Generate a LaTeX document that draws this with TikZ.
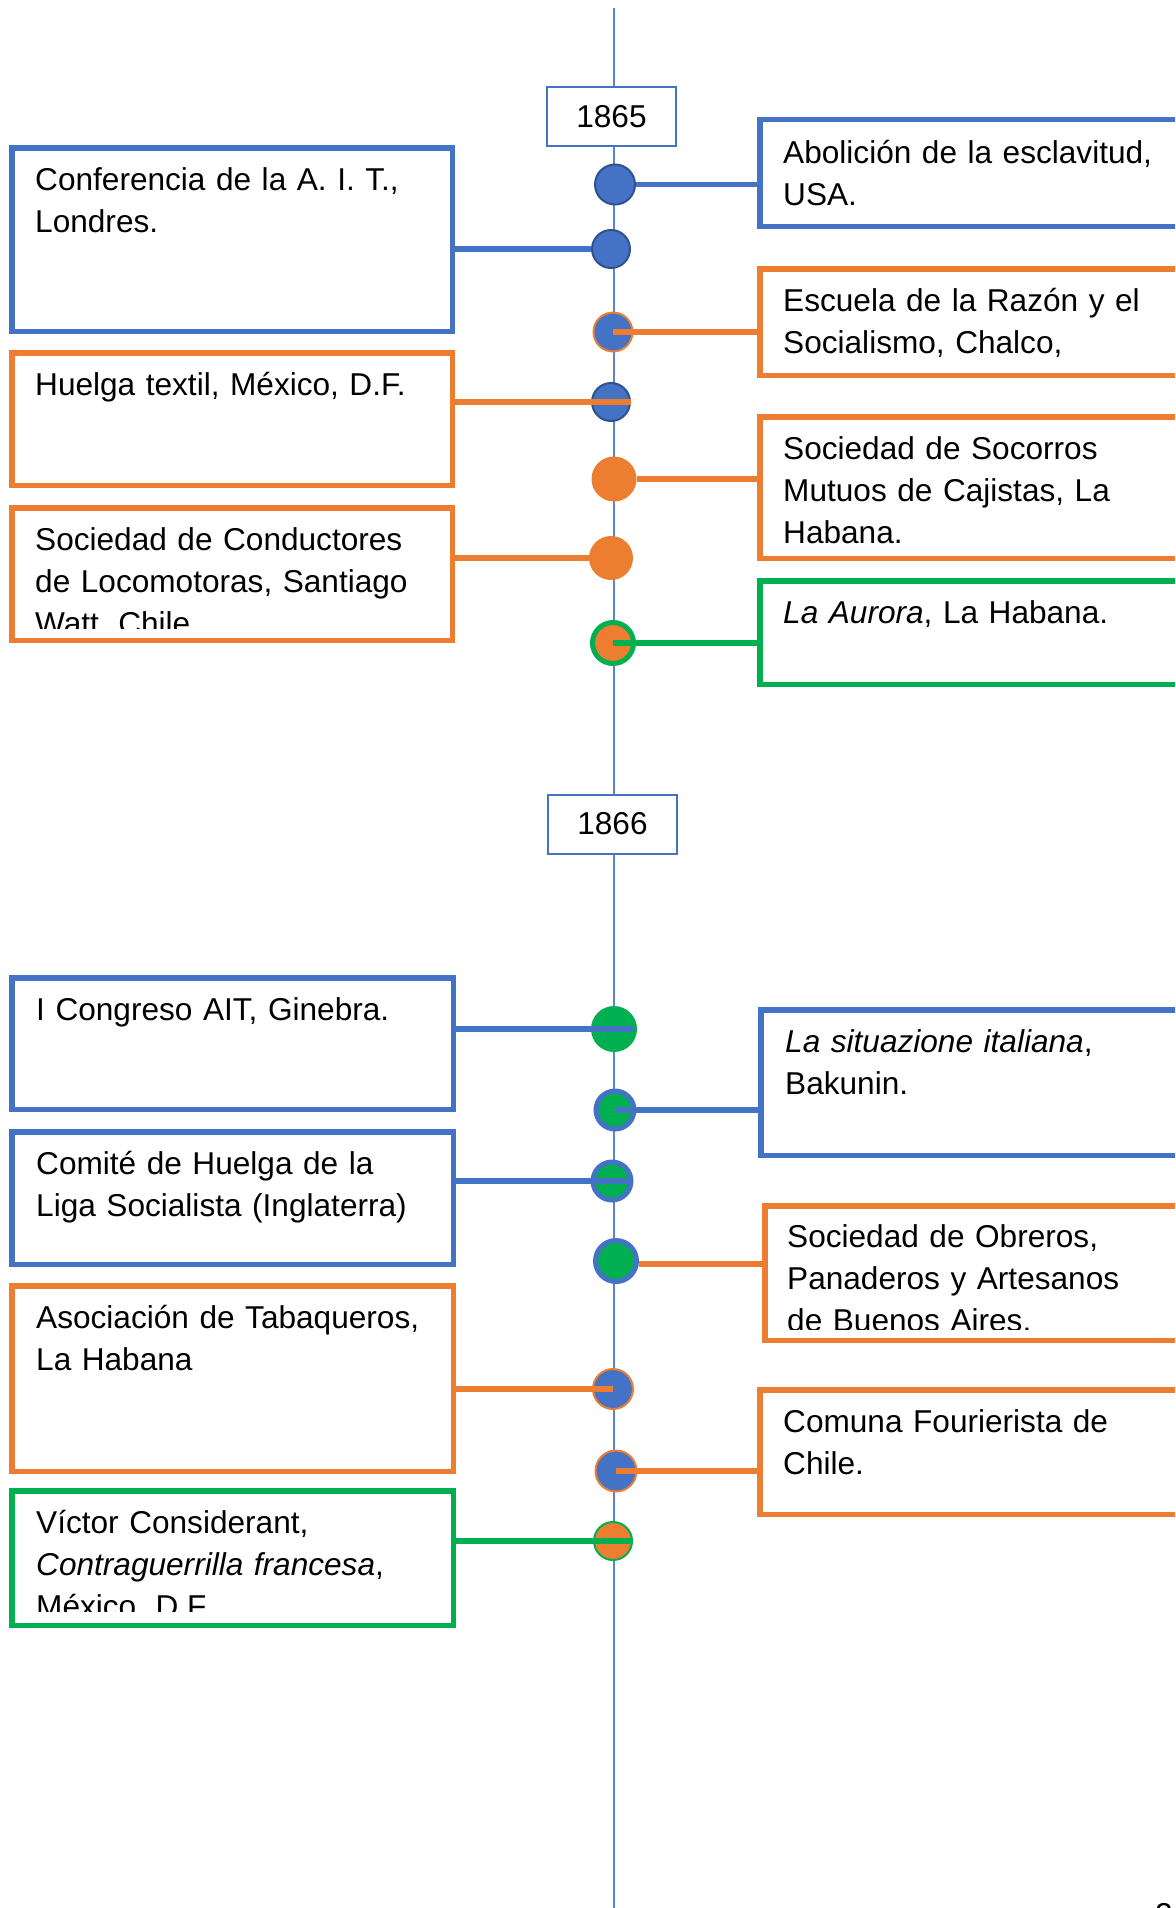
\documentclass[tikz,border=0pt]{standalone}
\usepackage{fontspec}
\setmainfont{Liberation Sans}
\definecolor{oblue}{HTML}{4472C4}
\definecolor{odark}{HTML}{2F528F}
\definecolor{oorange}{HTML}{ED7D31}
\definecolor{ogreen}{HTML}{00B050}
\definecolor{tline}{HTML}{5B84CC}
\newcommand\evfont{\fontsize{31.6}{42}\selectfont}
\newcommand\evbox[6]{\node[evb, draw=#2, minimum width={#5-#3-5.5}, minimum height={#6-#4-5.5}] (#1) at ({(#3+#5)/2},{(#4+#6)/2}) {};}
\begin{document}
\begin{tikzpicture}[x=1pt,y=-1pt,
  evb/.style={rectangle, line width=5.5pt, fill=white, inner sep=0pt},
  yearbox/.style={rectangle, draw=oblue, line width=2pt, fill=white, inner sep=0pt, minimum width=129pt, minimum height=59pt, font=\evfont},
  txt/.style={anchor=base west, inner sep=0pt, text width=430pt, align=left, font=\evfont},
  dot/.style={circle, inner sep=0pt},
  conn/.style={line width=5.5pt},
]
\useasboundingbox (0,0) rectangle (1175,1908);
\begin{scope}
\clip (0,0) rectangle (1175,1908);
% timeline
\coordinate (ttop) at (614,8);
\coordinate (tbot) at (614,1915);
\draw[tline, line width=1.6pt] (ttop) -- (tbot);

% year boxes
\node[yearbox] (y1865) at (611.5,116.5) {1865};
\node[yearbox] (y1866) at (612.5,824) {1866};

% boxes
\evbox{L1}{oblue}{9}{145}{455}{334}
\evbox{L2}{oorange}{9}{350}{455}{488}
\evbox{L3}{oorange}{9}{505}{455}{643}
\evbox{R1}{oblue}{757}{117}{1185}{229}
\evbox{R2}{oorange}{757}{266}{1185}{378}
\evbox{R3}{oorange}{757}{414}{1185}{561}
\evbox{R4}{ogreen}{757}{578}{1185}{687}
\evbox{L4}{oblue}{9}{975}{456}{1112}
\evbox{L5}{oblue}{9}{1129}{456}{1267}
\evbox{L6}{oorange}{9}{1283}{456}{1474}
\evbox{L7}{ogreen}{9}{1488}{456}{1628}
\evbox{R5}{oblue}{758}{1007}{1185}{1158}
\evbox{R6}{oorange}{762}{1203}{1185}{1343}
\evbox{R7}{oorange}{757}{1387}{1185}{1517}

% texts
\node[txt] (tL1) at (35,190) {Conferencia de la A. I. T.,\\Londres.};
\node[txt] (tL2) at (35,395) {Huelga textil, México, D.F.};
\begin{scope}
\clip (0,500) rectangle (460,628);
\node[txt] (tL3) at (35,550) {Sociedad de Conductores\\de Locomotoras, Santiago\\Watt, Chile.};
\end{scope}
\node[txt] (tR1) at (783,163) {Abolición de la esclavitud,\\USA.};
\node[txt] (tR2) at (783,311) {Escuela de la Razón y el\\Socialismo, Chalco,};
\node[txt] (tR3) at (783,459) {Sociedad de Socorros\\Mutuos de Cajistas, La\\Habana.};
\node[txt] (tR4) at (783,623) {\textit{La Aurora}, La Habana.};
\node[txt] (tL4) at (36,1020) {I Congreso AIT, Ginebra.};
\node[txt] (tL5) at (36,1174) {Comité de Huelga de la\\Liga Socialista (Inglaterra)};
\node[txt] (tL6) at (36,1328) {Asociación de Tabaqueros,\\La Habana};
\begin{scope}
\clip (0,1480) rectangle (460,1611);
\node[txt] (tL7) at (36,1533) {Víctor Considerant,\\\textit{Contraguerrilla francesa},\\México, D.F.};
\end{scope}
\node[txt] (tR5) at (785,1052) {\textit{La situazione italiana},\\Bakunin.};
\begin{scope}
\clip (760,1200) rectangle (1175,1329);
\node[txt] (tR6) at (787,1247) {Sociedad de Obreros,\\Panaderos y Artesanos\\de Buenos Aires.};
\end{scope}
\node[txt] (tR7) at (783,1432) {Comuna Fourierista de\\Chile.};

% circles
\node[dot, fill=oblue, draw=odark, line width=2pt, minimum size=40pt] (c1) at (615,184.5) {};
\node[dot, fill=oblue, draw=odark, line width=2pt, minimum size=38pt] (c2) at (611,249) {};
\node[dot, fill=oblue, draw=oorange, line width=2pt, minimum size=39pt] (c3) at (613,332) {};
\node[dot, fill=oblue, draw=odark, line width=2pt, minimum size=38pt] (c4) at (611,402) {};
\node[dot, fill=oorange, minimum size=45pt] (c5) at (614,479) {};
\node[dot, fill=oorange, minimum size=44pt] (c6) at (611,558) {};
\node[dot, fill=oorange, draw=ogreen, line width=5pt, minimum size=41pt] (c7) at (613,643) {};
\node[dot, fill=ogreen, minimum size=46pt] (c8) at (614,1029) {};
\node[dot, fill=ogreen, draw=oblue, line width=5pt, minimum size=38pt] (c9) at (615,1110) {};
\node[dot, fill=ogreen, draw=oblue, line width=5pt, minimum size=38pt] (c10) at (612,1181) {};
\node[dot, fill=ogreen, draw=oblue, line width=5pt, minimum size=41pt] (c11) at (616,1261) {};
\node[dot, fill=oblue, draw=oorange, line width=2pt, minimum size=40pt] (c12) at (613,1389) {};
\node[dot, fill=oblue, draw=oorange, line width=2pt, minimum size=41pt] (c13) at (616,1471) {};
\node[dot, fill=oorange, draw=ogreen, line width=2pt, minimum size=38pt] (c14) at (613,1541) {};

% connectors
\draw[conn, oblue] (c1.east) -- (c1.east -| R1.west);
\draw[conn, oblue] (L1.east |- c2) -- (c2.west);
\draw[conn, oorange] (c3.center) -- (c3 -| R2.west);
\draw[conn, oorange] (L2.east |- c4) -- (c4.east);
\draw[conn, oorange] (c5.east) -- (c5 -| R3.west);
\draw[conn, oorange] (L3.east |- c6) -- (c6.west);
\draw[conn, ogreen] (c7.center) -- (c7 -| R4.west);
\draw[conn, oblue] (L4.east |- c8) -- ([xshift=-4pt]c8.east);
\draw[conn, oblue] (c9.center) -- (c9 -| R5.west);
\draw[conn, oblue] (L5.east |- c10) -- ([xshift=-5pt]c10.east);
\draw[conn, oorange] ([yshift=-3pt]c11.east) -- ([yshift=-3pt]c11.east -| R6.west);
\draw[conn, oorange] (L6.east |- c12) -- (c12.center);
\draw[conn, oorange] (c13.center) -- (c13 -| R7.west);
\draw[conn, ogreen] (L7.east |- c14) -- (c14.east);

% page number fragment
\node[anchor=base west, inner sep=0pt, font=\evfont] (pnum) at (1155,1925) {2};
\end{scope}
\end{tikzpicture}
\end{document}
